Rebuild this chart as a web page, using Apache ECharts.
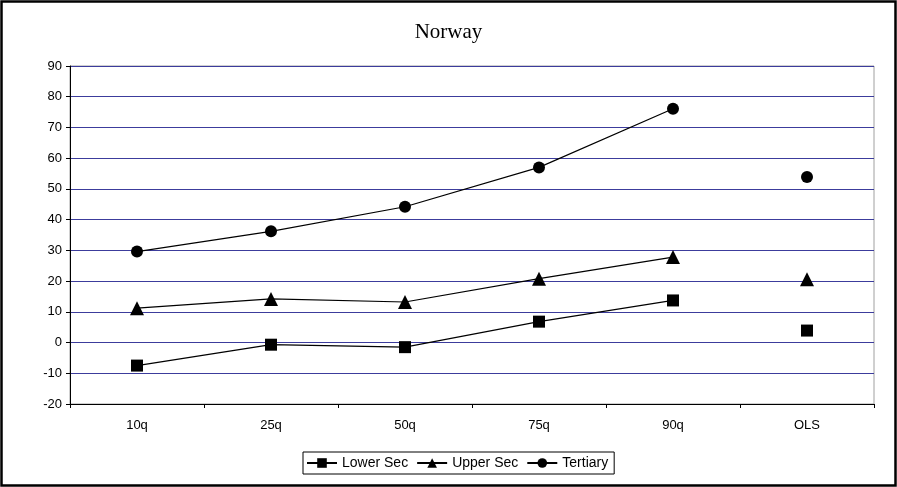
<!DOCTYPE html>
<html><head><meta charset="utf-8">
<script src="https://cdn.jsdelivr.net/npm/echarts@6/dist/echarts.min.js"></script>
<style>html,body{margin:0;padding:0;background:#fff}#c{width:897px;height:487px}</style>
</head><body><div id="c"></div>
<script>
const categories = ['10q','25q','50q','75q','90q','OLS'];
const lowerSec = [-7.5, -0.7, -1.5, 6.8, 13.7, 3.9];
const upperSec = [11.2, 14.2, 13.2, 20.8, 27.8, 20.6];
const tertiary = [29.6, 36.2, 44.2, 57.0, 76.1, 53.9];

function lineData(arr){ return arr.map((v,i)=> i < arr.length-1 ? v : '-'); }
function olsData(arr){ return arr.map((v,i)=> i === arr.length-1 ? v : '-'); }

const seriesDefs = [
  {name:'Lower Sec', data: lowerSec, symbol:'rect', size:12},
  {name:'Upper Sec', data: upperSec, symbol:'triangle', size:14},
  {name:'Tertiary', data: tertiary, symbol:'circle', size:12}
];
const series = [];
seriesDefs.forEach(d=>{
  series.push({name:d.name, type:'line', data: lineData(d.data), symbol:d.symbol, symbolSize:d.size,
    showAllSymbol:true, lineStyle:{color:'#000', width:1.2}, itemStyle:{color:'#000'}, z:3, animation:false});
  series.push({name:d.name, type:'line', data: olsData(d.data), symbol:d.symbol, symbolSize:d.size,
    showAllSymbol:true, lineStyle:{color:'#000', width:1.2}, itemStyle:{color:'#000'}, z:3, animation:false});
});

const chart = echarts.init(document.getElementById('c'), null, {renderer:'canvas'});
chart.setOption({
  animation:false,
  backgroundColor:'#fff',
  title:{text:'Norway', left:'center', top:17, textStyle:{fontFamily:'Liberation Serif, Times New Roman, serif', fontSize:21, fontWeight:'normal', color:'#000'}},
  graphic:[{type:'rect', shape:{x:1.5,y:1.5,width:894,height:484}, style:{fill:'none', stroke:'#000', lineWidth:2.5}, silent:true, z:100}],
  legend:{data:['Lower Sec','Upper Sec','Tertiary'], left:303, bottom:13, itemWidth:30, itemHeight:12, itemGap:8,
    borderColor:'#000', borderWidth:1, padding:[4,6,4,3],
    textStyle:{fontFamily:'Liberation Sans, Arial, sans-serif', fontSize:14, color:'#000'}},
  grid:{left:70, right:23, top:66, bottom:83, show:true, borderColor:'#a0a0a0', borderWidth:1},
  xAxis:{type:'category', data:categories, boundaryGap:true,
    axisLine:{onZero:false, lineStyle:{color:'#000', width:1}},
    axisTick:{show:true, length:4, inside:false, lineStyle:{color:'#000'}},
    axisLabel:{color:'#000', fontFamily:'Liberation Sans, Arial, sans-serif', fontSize:13, margin:15},
    splitLine:{show:false}},
  yAxis:{type:'value', min:-20, max:90, interval:10,
    axisLine:{show:true, lineStyle:{color:'#000', width:1}},
    axisTick:{show:true, length:4, lineStyle:{color:'#000'}},
    axisLabel:{color:'#000', fontFamily:'Liberation Sans, Arial, sans-serif', fontSize:13, margin:8},
    splitLine:{show:true, lineStyle:{color:'#3c3c9c', width:1}}},
  series: series
});
</script></body></html>
